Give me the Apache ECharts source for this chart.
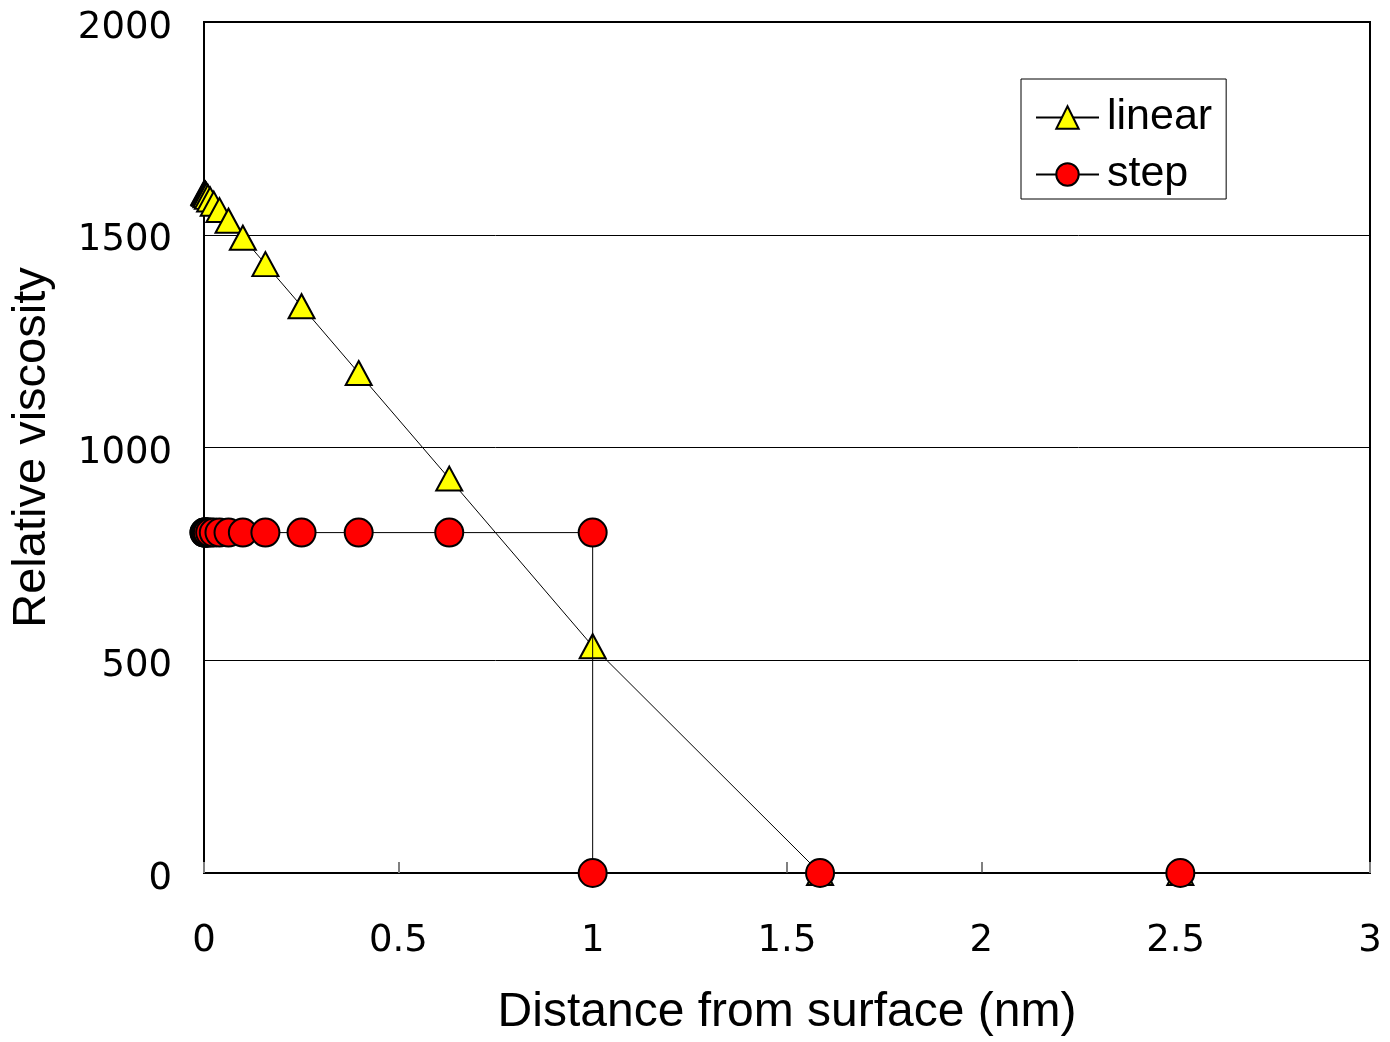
<!DOCTYPE html>
<html>
<head>
<meta charset="utf-8">
<title>Relative viscosity vs distance</title>
<script src="https://cdn.jsdelivr.net/npm/echarts@6/dist/echarts.min.js"></script>
<style>
  html, body { margin: 0; padding: 0; background: #fff; }
  #chart { width: 1390px; height: 1042px; }
</style>
</head>
<body>
<div id="chart"></div>
<script>
// Distance from the surface (nm), sampled on a log scale
const distance = [0.001, 0.00158, 0.00251, 0.00398, 0.00631, 0.01, 0.0158, 0.0251,
  0.0398, 0.0631, 0.1, 0.158, 0.251, 0.398, 0.631, 1, 1.585, 2.512];
// Linearly decaying viscosity profile
const linearViscosity = [1599, 1598, 1597, 1596, 1593, 1589, 1583, 1573,
  1558, 1533, 1493, 1431, 1332, 1175, 927, 533, 0, 0];
// Step profile: constant up to 1 nm, then zero
const stepDistance = [0.001, 0.00158, 0.00251, 0.00398, 0.00631, 0.01, 0.0158, 0.0251,
  0.0398, 0.0631, 0.1, 0.158, 0.251, 0.398, 0.631, 1, 1, 1.585, 2.512];
const stepViscosity = [800, 800, 800, 800, 800, 800, 800, 800,
  800, 800, 800, 800, 800, 800, 800, 800, 0, 0, 0];

const xTicks = ['0', '0.5', '1', '1.5', '2', '2.5', '3'];
const yTicks = ['0', '500', '1000', '1500', '2000'];

const pairs = (xs, ys) => xs.map((x, i) => [x, ys[i]]);
const font = 'Liberation Sans, Arial, sans-serif';
const tickFont = 'DejaVu Sans, Verdana, sans-serif';

const chart = echarts.init(document.getElementById('chart'), null, { renderer: 'canvas' });
chart.setOption({
  backgroundColor: '#ffffff',
  animation: false,
  grid: {
    left: 204, right: 20, top: 22, bottom: 167,
    show: true, borderColor: '#000', borderWidth: 2, backgroundColor: 'transparent'
  },
  legend: {
    orient: 'vertical',
    left: 1021, top: 79,
    padding: [17, 14, 3, 14],
    itemGap: 14,
    itemWidth: 63,
    itemHeight: 28,
    borderColor: '#000', borderWidth: 1,
    backgroundColor: '#fff',
    textStyle: { fontFamily: font, fontSize: 43, color: '#000', padding: [0, 0, 0, 3] },
    data: ['linear', 'step']
  },
  xAxis: {
    type: 'value',
    min: 0, max: 3, interval: 0.5,
    name: 'Distance from surface (nm)',
    nameLocation: 'middle',
    nameGap: 116,
    nameTextStyle: { fontFamily: font, fontSize: 48, color: '#000' },
    axisLine: { show: true, onZero: false, lineStyle: { color: '#000', width: 2 } },
    axisTick: { show: true, inside: true, length: 11, lineStyle: { color: '#808080', width: 2 } },
    axisLabel: {
      fontFamily: tickFont, fontSize: 37, color: '#000', margin: 50,
      formatter: v => xTicks[Math.round(v / 0.5)]
    },
    splitLine: { show: false }
  },
  yAxis: {
    type: 'value',
    min: 0, max: 2000, interval: 500,
    name: 'Relative viscosity',
    nameLocation: 'middle',
    nameGap: 148,
    nameTextStyle: { fontFamily: font, fontSize: 47, color: '#000' },
    axisLine: { show: true, lineStyle: { color: '#000', width: 2 } },
    axisTick: { show: false },
    axisLabel: {
      fontFamily: tickFont, fontSize: 37, color: '#000', margin: 32,
      verticalAlign: 'top', lineHeight: 12,
      formatter: v => yTicks[Math.round(v / 500)]
    },
    splitLine: { show: true, lineStyle: { color: '#000', width: 1 } }
  },
  series: [
    {
      name: 'linear',
      type: 'line',
      data: pairs(distance, linearViscosity),
      symbol: 'triangle',
      symbolSize: [26, 24],
      showAllSymbol: true,
      lineStyle: { color: '#000', width: 1 },
      itemStyle: { color: '#ffff00', borderColor: '#000', borderWidth: 2 },
      z: 2
    },
    {
      name: 'step',
      type: 'line',
      data: pairs(stepDistance, stepViscosity),
      symbol: 'circle',
      symbolSize: 28,
      showAllSymbol: true,
      lineStyle: { color: '#000', width: 1 },
      itemStyle: { color: '#ff0000', borderColor: '#000', borderWidth: 2 },
      z: 3
    }
  ]
});
</script>
</body>
</html>
